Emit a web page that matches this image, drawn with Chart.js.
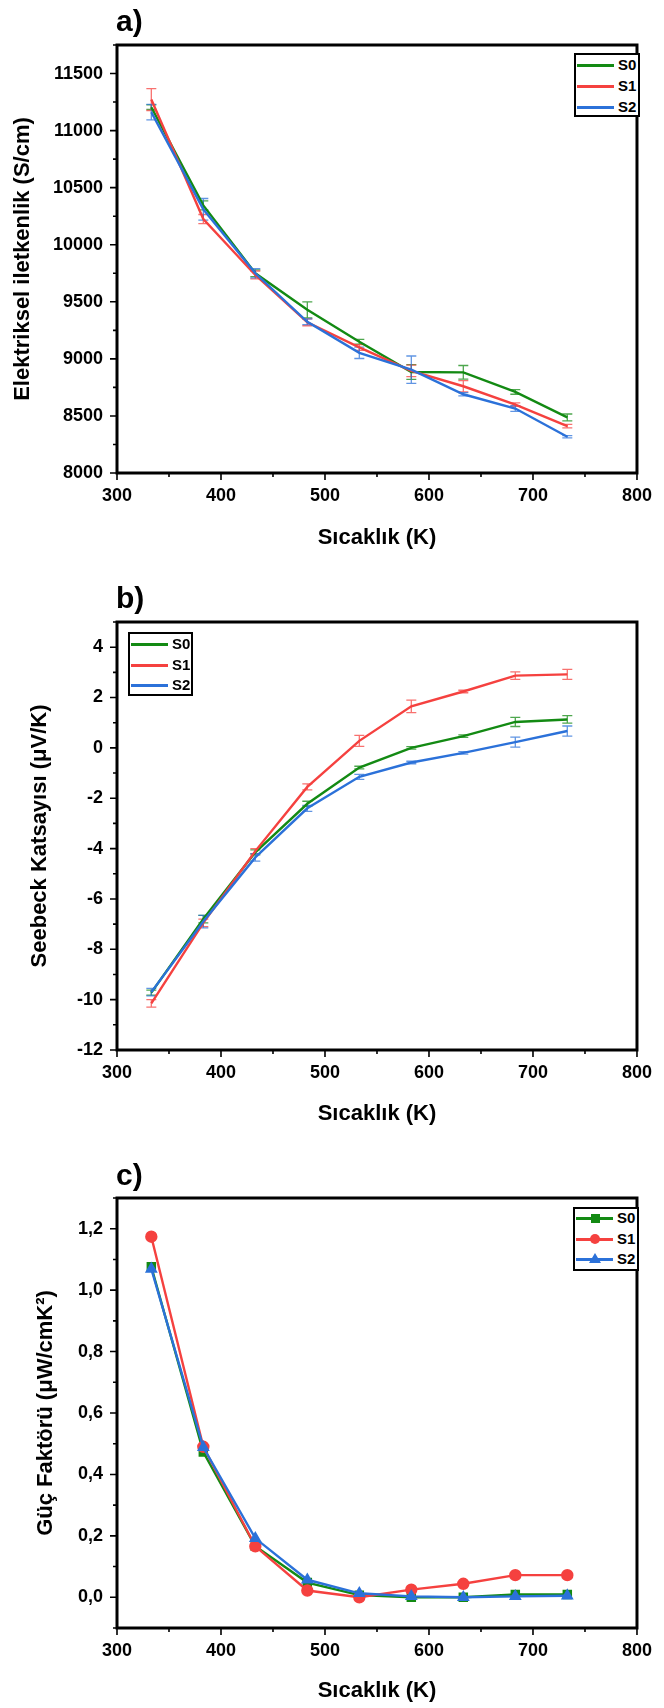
<!DOCTYPE html>
<html>
<head>
<meta charset="utf-8">
<script src="https://cdn.jsdelivr.net/npm/chart.js@4.4.1/dist/chart.umd.min.js"></script>
<style>
  body { margin: 0; background: #fff; font-family: "Liberation Sans", Arial, sans-serif; }
  #page { position: relative; width: 664px; height: 1708px; overflow: hidden; }
  canvas { position: absolute; left: 0; }
  .tag { position: absolute; left: 116px; font-weight: bold; font-size: 30px; line-height: 30px; }
  .leg { position: absolute; border: 2px solid #000; box-sizing: border-box; background: #fff; }
  .leg .ln { position: absolute; left: 1px; width: 37px; height: 3px; }
  .leg .mk { position: absolute; }
  .leg .tx { position: absolute; left: 42px; font-weight: bold; font-size: 15px; line-height: 18px; }
</style>
</head>
<body>
<div id="page">
  <canvas id="chA" width="664" height="560" style="top:0"></canvas>
  <canvas id="chB" width="664" height="575" style="top:560px"></canvas>
  <canvas id="chC" width="664" height="573" style="top:1135px"></canvas>
  <div class="tag" style="top:6px">a)</div>
  <div class="tag" style="top:583px">b)</div>
  <div class="tag" style="top:1160px">c)</div>
</div>
<script>
// sıcaklık (K)
const temps = [333, 383, 433, 483, 533, 583, 633, 683, 733];
const series = ["S0", "S1", "S2"];
const colors = ["#138a13", "#f5413f", "#2b71d9"];
const errColors = ["rgba(19,138,19,0.75)", "rgba(245,65,63,0.75)", "rgba(43,113,217,0.75)"];

// a) elektriksel iletkenlik
const condS0 = [11205, 10345, 9750, 9430, 9150, 8885, 8882, 8710, 8487];
const condS1 = [11272, 10225, 9735, 9320, 9100, 8895, 8760, 8600, 8411];
const condS2 = [11162, 10310, 9750, 9325, 9053, 8905, 8690, 8565, 8318];
const condErrS0 = [20, 40, 30, 70, 20, 65, 60, 20, 30];
const condErrS1 = [96, 40, 35, 30, 25, 50, 50, 15, 15];
const condErrS2 = [68, 95, 40, 25, 50, 120, 15, 25, 10];

// b) seebeck
const seebS0 = [-9.72, -6.8, -4.15, -2.22, -0.78, 0.0, 0.47, 1.03, 1.13];
const seebS1 = [-10.15, -6.95, -4.1, -1.55, 0.28, 1.65, 2.24, 2.87, 2.92];
const seebS2 = [-9.7, -6.9, -4.35, -2.4, -1.15, -0.58, -0.2, 0.23, 0.67];
const seebErrS0 = [0.1, 0.15, 0.1, 0.1, 0.05, 0.05, 0.05, 0.18, 0.15];
const seebErrS1 = [0.15, 0.15, 0.1, 0.12, 0.22, 0.25, 0.05, 0.15, 0.2];
const seebErrS2 = [0.15, 0.25, 0.15, 0.12, 0.1, 0.05, 0.05, 0.2, 0.2];

// c) güç faktörü
const pfS0 = [1.076, 0.473, 0.166, 0.048, 0.007, 0.0, 0.0, 0.009, 0.009];
const pfS1 = [1.174, 0.49, 0.166, 0.022, 0.0, 0.025, 0.044, 0.072, 0.072];
const pfS2 = [1.069, 0.488, 0.192, 0.057, 0.013, 0.003, 0.0, 0.003, 0.005];

const xTicks = [300, 400, 500, 600, 700, 800];
const condTicks = [8000, 8500, 9000, 9500, 10000, 10500, 11000, 11500];
const seebTicks = [-12, -10, -8, -6, -4, -2, 0, 2, 4];
const pfTicks = [0, 0.2, 0.4, 0.6, 0.8, 1.0, 1.2];

const FONT = '"Liberation Sans", Arial, sans-serif';

const errorBars = {
  id: "errorBars",
  beforeDatasetsDraw(chart) {
    const { ctx, scales: { x, y } } = chart;
    chart.data.datasets.forEach((ds) => {
      if (!ds.errors) return;
      ctx.save();
      ctx.strokeStyle = ds.errorColor;
      ctx.lineWidth = 1.3;
      ds.data.forEach((p, i) => {
        const px = x.getPixelForValue(p.x);
        const y1 = y.getPixelForValue(p.y + ds.errors[i]);
        const y2 = y.getPixelForValue(p.y - ds.errors[i]);
        ctx.beginPath();
        ctx.moveTo(px, y1); ctx.lineTo(px, y2);
        ctx.moveTo(px - 5, y1); ctx.lineTo(px + 5, y1);
        ctx.moveTo(px - 5, y2); ctx.lineTo(px + 5, y2);
        ctx.stroke();
      });
      ctx.restore();
    });
  },
};

// çerçeve + ana/ara tick'ler
function minorOf(ticks, min, max) {
  const half = (ticks[1] - ticks[0]) / 2;
  const out = [];
  for (let v = ticks[0] - half; v >= min - 1e-9; v -= 2 * half) out.push(v);
  ticks.forEach((t) => { if (t + half <= max + 1e-9) out.push(t + half); });
  return out;
}

const frame = {
  id: "frame",
  afterDatasetsDraw(chart) {
    const { ctx, chartArea: a, scales: { x, y } } = chart;
    ctx.save();
    ctx.strokeStyle = "#000";
    ctx.lineWidth = 1.6;
    ctx.beginPath();
    const xt = x.ticks.map((t) => t.value);
    const yt = y.ticks.map((t) => t.value);
    xt.forEach((v) => { const p = x.getPixelForValue(v); ctx.moveTo(p, a.bottom); ctx.lineTo(p, a.bottom + 7); });
    minorOf(xt, x.min, x.max).forEach((v) => { const p = x.getPixelForValue(v); ctx.moveTo(p, a.bottom); ctx.lineTo(p, a.bottom + 4); });
    yt.forEach((v) => { const p = y.getPixelForValue(v); ctx.moveTo(a.left, p); ctx.lineTo(a.left - 7, p); });
    minorOf(yt, y.min, y.max).forEach((v) => { const p = y.getPixelForValue(v); ctx.moveTo(a.left, p); ctx.lineTo(a.left - 4, p); });
    ctx.stroke();
    ctx.lineWidth = 3;
    ctx.strokeRect(a.left, a.top, a.right - a.left, a.bottom - a.top);
    ctx.restore();
  },
};

function makeChart(id, p) {
  const datasets = p.values.map((vals, i) => ({
    label: series[i],
    data: temps.map((t, k) => ({ x: t, y: vals[k] })),
    errors: p.errors ? p.errors[i] : null,
    errorColor: errColors[i],
    borderColor: colors[i],
    backgroundColor: colors[i],
    borderWidth: 2.4,
    pointRadius: p.markers ? 5 : 0,
    pointStyle: p.markers ? p.markers[i] : "circle",
    tension: 0,
    order: 3 - i,
  }));
  const tickFont = { family: FONT, size: 18, weight: "bold" };
  const titleFont = { family: FONT, size: 22, weight: "bold" };
  return new Chart(document.getElementById(id), {
    type: "line",
    data: { datasets },
    options: {
      responsive: false,
      animation: false,
      layout: { padding: { top: p.top, right: 14, left: 0, bottom: 0 } },
      plugins: { legend: { display: false }, tooltip: { enabled: false } },
      scales: {
        x: {
          type: "linear",
          min: 300,
          max: 800,
          afterBuildTicks: (s) => { s.ticks = xTicks.map((v) => ({ value: v })); },
          afterFit: (s) => { s.height = p.xH; },
          grid: { display: false, drawTicks: false },
          border: { display: false },
          ticks: { color: "#000", font: tickFont, padding: 12, maxRotation: 0 },
          title: { display: true, text: "Sıcaklık (K)", color: "#000", font: titleFont, padding: { top: 0, bottom: p.xPad } },
        },
        y: {
          min: p.min,
          max: p.max,
          afterBuildTicks: (s) => { s.ticks = p.ticks.map((v) => ({ value: v })); },
          afterFit: (s) => { s.width = 117; },
          grid: { display: false, drawTicks: false },
          border: { display: false },
          ticks: { color: "#000", font: tickFont, padding: 14, callback: p.fmt },
          title: { display: true, text: p.yTitle, color: "#000", font: titleFont, padding: { top: p.yPad, bottom: 0 } },
        },
      },
    },
    plugins: [errorBars, frame],
  });
}

makeChart("chA", {
  values: [condS0, condS1, condS2],
  errors: [condErrS0, condErrS1, condErrS2],
  min: 8000, max: 11750, ticks: condTicks,
  fmt: (v) => String(v),
  yTitle: "Elektriksel iletkenlik (S/cm)",
  top: 45, xH: 87, xPad: 9, yPad: 10,
});

makeChart("chB", {
  values: [seebS0, seebS1, seebS2],
  errors: [seebErrS0, seebErrS1, seebErrS2],
  min: -12, max: 5, ticks: seebTicks,
  fmt: (v) => String(v),
  yTitle: "Seebeck Katsayısı (μV/K)",
  top: 62, xH: 85, xPad: 8, yPad: 27,
});

makeChart("chC", {
  values: [pfS0, pfS1, pfS2],
  markers: ["rect", "circle", "triangle"],
  min: -0.1, max: 1.3, ticks: pfTicks,
  fmt: (v) => v.toFixed(1).replace(".", ","),
  yTitle: "Güç Faktörü (μW/cmK²)",
  top: 63, xH: 80, xPad: 4, yPad: 33,
});

// lejantlar
function legend(box, markers) {
  const el = document.createElement("div");
  el.className = "leg";
  Object.assign(el.style, { left: box.x + "px", top: box.y + "px", width: box.w + "px", height: box.h + "px" });
  series.forEach((name, i) => {
    const cy = box.rows[i] - box.y - 2;
    const ln = document.createElement("div");
    ln.className = "ln";
    ln.style.top = cy - 1.5 + "px";
    ln.style.background = colors[i];
    el.appendChild(ln);
    if (markers) {
      const mk = document.createElement("div");
      mk.className = "mk";
      const m = markers[i];
      if (m === "triangle") {
        Object.assign(mk.style, { left: "14px", top: cy - 6 + "px", width: 0, height: 0,
          borderLeft: "6px solid transparent", borderRight: "6px solid transparent", borderBottom: "10px solid " + colors[i] });
      } else {
        const sz = m === "rect" ? 9 : 10;
        Object.assign(mk.style, { left: 20 - sz / 2 + "px", top: cy - sz / 2 + "px", width: sz + "px", height: sz + "px",
          background: colors[i], borderRadius: m === "circle" ? "50%" : "0" });
      }
      el.appendChild(mk);
    }
    const tx = document.createElement("div");
    tx.className = "tx";
    tx.style.top = cy - 9 + "px";
    tx.textContent = name;
    el.appendChild(tx);
  });
  document.getElementById("page").appendChild(el);
}

legend({ x: 574, y: 53, w: 66, h: 64, rows: [65, 86, 107] });
legend({ x: 128, y: 632, w: 65, h: 64, rows: [644, 665, 685] });
legend({ x: 573, y: 1207, w: 66, h: 64, rows: [1218, 1239, 1259] }, ["rect", "circle", "triangle"]);
</script>
</body>
</html>
